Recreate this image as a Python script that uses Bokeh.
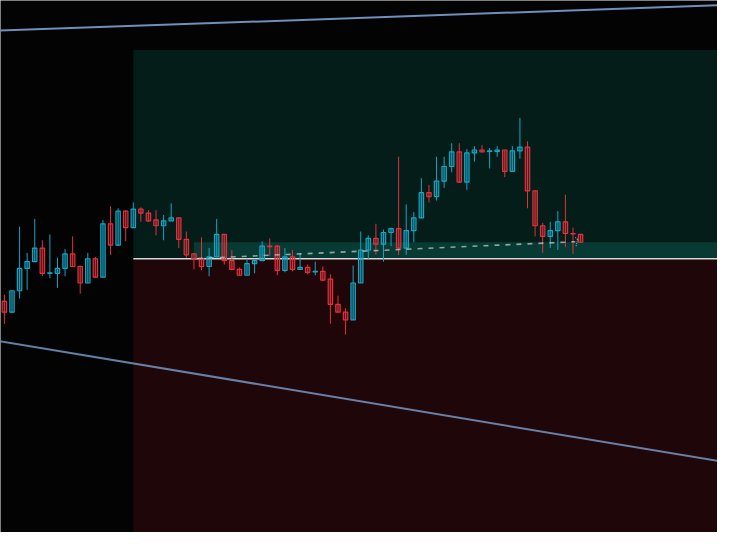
from bokeh.plotting import figure, ColumnDataSource
from bokeh.models import Range1d
from bokeh.embed import file_html
from bokeh.resources import INLINE

# candle data (price units, bigger = higher)
opens = [238, 227, 249, 272, 279, 293, 267, 267, 272, 287,
         274, 257, 282, 263, 318, 296, 331, 314, 333, 329,
         322, 316, 321, 324, 302, 287, 282, 274, 284, 307,
         280, 271, 265, 277, 280, 295, 295, 270, 284, 271,
         273, 268.5, 269, 261, 235, 227, 219, 257, 291, 303,
         297, 309, 313, 293, 311, 324, 350, 346, 362, 377,
         392, 361, 391, 394, 392.5, 392.5, 394, 372, 393, 397,
         352, 316, 305, 311, 320, 308, 307]
highs = [245, 249, 315, 288, 323, 301, 307, 283, 292, 305,
         275, 288, 284, 322, 336, 334, 332, 340, 335, 332,
         332, 327, 339, 324, 310, 288, 304, 293, 323, 307,
         291, 273, 282, 282, 300, 303, 296, 293, 291, 288,
         276, 279, 274, 266, 244, 231, 275, 310, 306, 318,
         312, 314, 387, 338, 330, 365, 358, 387, 387, 401,
         401, 395, 398, 399, 396, 398, 394, 398, 427, 403,
         352, 319, 320, 331, 348, 314, 307]
lows = [215, 226, 241, 250, 279, 264, 262, 252, 264, 273.5,
        246, 257, 262, 263, 286, 295, 300, 314, 320, 320,
        306, 301, 321, 293, 283, 271, 270, 264, 284, 276,
        270, 265, 265, 267, 280, 285, 265, 268, 269, 271,
        266, 265, 259, 215, 227, 204, 219, 257, 281, 286,
        279, 295, 286, 286, 299, 324, 340, 342, 355, 371,
        360, 353, 382, 392, 375, 387, 366, 372, 385, 334,
        305, 288, 293, 291, 294, 287, 299]
closes = [227, 249, 272, 279, 293, 267, 267.5, 272, 287, 274,
          257, 282, 263, 318, 296, 331, 314, 333, 329, 321,
          316, 321, 324, 302, 286, 282, 274, 284, 307, 280,
          271, 265, 277, 280, 295, 294.5, 270, 284, 271, 273,
          268, 269, 260, 235, 227, 219, 257, 291, 303, 297,
          309, 313, 293, 311, 324, 350, 346, 362, 377, 392,
          361, 391, 394, 392, 393, 394, 372, 393, 397, 352,
          316, 305, 311, 320, 308, 307.5, 299]

# zones and drawn levels
zone_start = 17
band_start = 25
zone_top = 497
band_top = 299
level = 282

upper_x = [-1, 95]
upper_y = [516.9, 543.3]
lower_x = [-1, 95]
lower_y = [197.6, 72.6]

path_x = [25.5, 75.3]
path_y = [282.3, 299.5]
arrow_xs = [[75.3, 75.6], [75.6, 75.4]]
arrow_ys = [[304, 302], [302, 294.5]]

UP = "#14a5c5"
DOWN = "#e1313d"
BG = "#030303"

idx = list(range(len(opens)))
colors = [UP if c >= o else DOWN for o, c in zip(opens, closes)]
src = ColumnDataSource(data=dict(
    x=idx, o=opens, h=highs, l=lows, c=closes, color=colors,
    top=[max(o, c) for o, c in zip(opens, closes)],
    bottom=[min(o, c) for o, c in zip(opens, closes)],
))

p = figure(width=717, height=532,
           x_range=Range1d(-0.516, 94.06), y_range=Range1d(0, 548),
           output_backend="svg", toolbar_location=None, min_border=0)
p.axis.visible = False
p.grid.visible = False
p.outline_line_color = None
p.background_fill_color = BG
p.border_fill_color = BG

right_edge = 120
p.quad(left=zone_start, right=right_edge, bottom=level, top=zone_top,
       fill_color="#041d19", line_color=None)
p.quad(left=band_start, right=right_edge, bottom=level, top=band_top,
       fill_color="#063a33", line_color=None)
p.quad(left=zone_start, right=right_edge, bottom=-20, top=level,
       fill_color="#1f0709", line_color=None)
p.segment(x0=zone_start, x1=right_edge, y0=level, y1=level,
          line_color="#d6d6d6", line_width=1.5)

p.segment('x', 'h', 'x', 'l', source=src, line_color='color', line_width=1)
p.vbar(x='x', top='top', bottom='bottom', width=0.58, source=src,
       fill_color='color', fill_alpha=0.3, line_color='color', line_width=1.2)

p.line(path_x, path_y, line_color="#d0d0d0", line_alpha=0.7,
       line_width=1.6, line_dash="5 6")
p.multi_line(arrow_xs, arrow_ys, line_color="#d0d0d0", line_alpha=0.7,
             line_width=1.2, line_dash="1 1")

p.line(upper_x, upper_y, line_color="#7b9fd0", line_alpha=0.9, line_width=2)
p.line(lower_x, lower_y, line_color="#7b9fd0", line_alpha=0.8, line_width=2)

html = file_html(p, INLINE)
html = html.replace("<body>", '<body style="background:%s">' % BG, 1)
open("out.html", "w").write(html)
